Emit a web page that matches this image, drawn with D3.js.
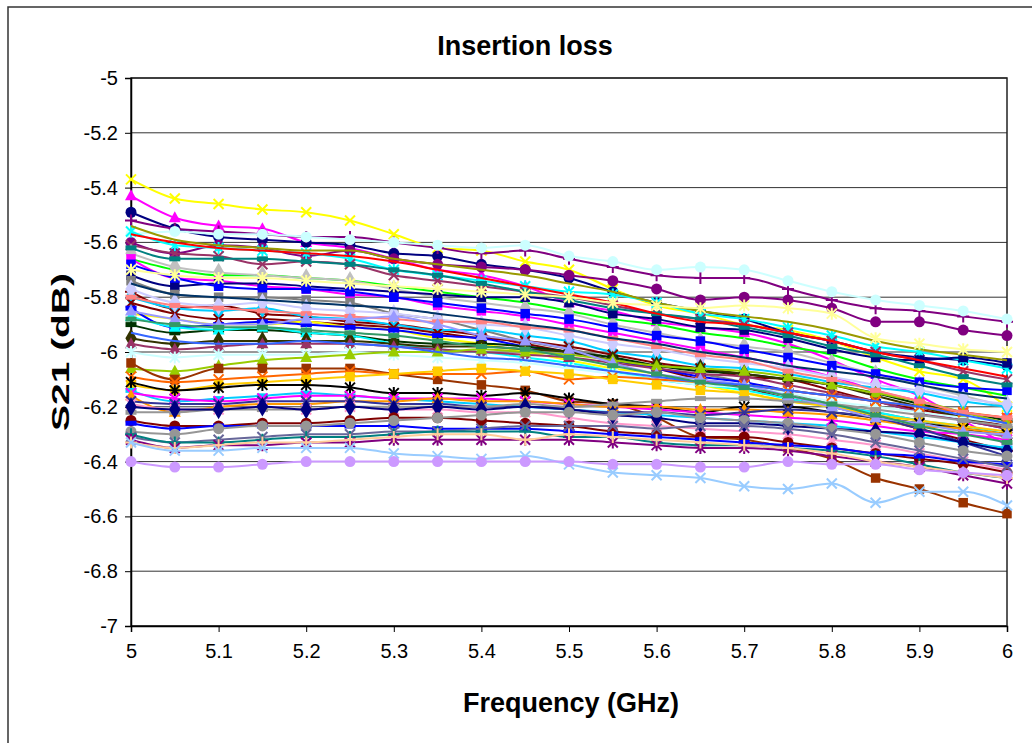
<!DOCTYPE html>
<html>
<head>
<meta charset="utf-8">
<script src="https://cdn.jsdelivr.net/npm/d3@7/dist/d3.min.js"></script>
<style>
  body { margin: 0; background: #fff; }
  svg { display: block; font-family: "Liberation Sans", Arial, sans-serif; }
</style>
</head>
<body>
<svg id="chart" width="1032" height="743"></svg>
<script>
// frequency points (GHz)
var freqs = [5, 5.05, 5.1, 5.15, 5.2, 5.25, 5.3, 5.35, 5.4, 5.45, 5.5,
             5.55, 5.6, 5.65, 5.7, 5.75, 5.8, 5.85, 5.9, 5.95, 6];
var xTicks = [5, 5.1, 5.2, 5.3, 5.4, 5.5, 5.6, 5.7, 5.8, 5.9, 6];
var yTicks = [-5, -5.2, -5.4, -5.6, -5.8, -6, -6.2, -6.4, -6.6, -6.8, -7];

// one entry per measured sample: colour, marker, S21 values at freqs
var seriesColors = [
  "#FFFF00", "#FF00FF", "#000080", "#800080", "#CCFFFF", "#800080", "#00FFFF", "#993366",
  "#00FF00", "#C0C0C0", "#FF00FF", "#000080", "#0000FF", "#808080", "#800000", "#00CCFF",
  "#800000", "#CCCCFF", "#FFFF00", "#0000FF", "#003300", "#00FFFF", "#333300", "#993366",
  "#CCFFFF", "#99CC00", "#993300", "#FF6600", "#FFCC00", "#000000", "#00CCFF", "#FF00FF",
  "#FF9900", "#333399", "#FF99CC", "#969696", "#000080", "#800000", "#0000FF", "#969696",
  "#666699", "#008080", "#800080", "#FFCC99", "#99CCFF", "#CC99FF", "#008080", "#FF0000",
  "#999900", "#FFFF99", "#FF8080", "#9999FF", "#3366FF", "#003366", "#339966"
];
var seriesMarkers = [
  "x", "triangle", "circle", "plus", "circle", "circle", "star", "x",
  "none", "diamond", "square", "square", "square", "square", "plus", "diamond",
  "x", "diamond", "none", "bar", "bar", "triangle", "diamond", "triangle",
  "star", "triangle", "square", "x", "square", "star", "bar", "x",
  "triangle", "x", "star", "bar", "diamond", "circle", "bar", "circle",
  "x", "plus", "star", "plus", "x", "circle", "bar", "none",
  "none", "star", "bar", "triangle", "none", "none", "bar"
];
var seriesValues = [
  [-5.37,-5.44,-5.46,-5.48,-5.49,-5.52,-5.57,-5.62,-5.63,-5.67,-5.70,-5.77,-5.83,-5.86,-5.90,-5.92,-5.96,-6.02,-6.07,-6.10,-6.20],
  [-5.43,-5.51,-5.54,-5.55,-5.60,-5.62,-5.66,-5.70,-5.72,-5.76,-5.82,-5.85,-5.89,-5.91,-5.93,-5.97,-6.03,-6.10,-6.16,-6.25,-6.34],
  [-5.49,-5.55,-5.58,-5.59,-5.60,-5.61,-5.64,-5.65,-5.68,-5.70,-5.73,-5.78,-5.82,-5.85,-5.88,-5.93,-5.96,-6.00,-6.02,-6.03,-6.05],
  [-5.52,-5.55,-5.56,-5.57,-5.58,-5.58,-5.60,-5.62,-5.64,-5.63,-5.66,-5.69,-5.72,-5.73,-5.73,-5.77,-5.81,-5.84,-5.85,-5.87,-5.89],
  [-5.57,-5.56,-5.57,-5.57,-5.58,-5.59,-5.60,-5.61,-5.62,-5.61,-5.65,-5.67,-5.70,-5.69,-5.70,-5.74,-5.78,-5.81,-5.83,-5.85,-5.88],
  [-5.60,-5.64,-5.61,-5.62,-5.65,-5.63,-5.66,-5.68,-5.69,-5.70,-5.72,-5.74,-5.77,-5.81,-5.80,-5.81,-5.84,-5.89,-5.89,-5.92,-5.94],
  [-5.56,-5.61,-5.62,-5.63,-5.64,-5.66,-5.70,-5.72,-5.74,-5.76,-5.78,-5.79,-5.82,-5.86,-5.88,-5.91,-5.94,-5.98,-6.00,-6.03,-6.06],
  [-5.61,-5.64,-5.65,-5.68,-5.67,-5.68,-5.72,-5.74,-5.76,-5.78,-5.80,-5.83,-5.86,-5.88,-5.90,-5.93,-5.96,-6.00,-6.03,-6.07,-6.10],
  [-5.66,-5.70,-5.72,-5.72,-5.73,-5.74,-5.76,-5.78,-5.80,-5.82,-5.85,-5.88,-5.90,-5.93,-5.95,-5.98,-6.01,-6.06,-6.10,-6.13,-6.16],
  [-5.64,-5.69,-5.71,-5.72,-5.73,-5.74,-5.77,-5.80,-5.82,-5.84,-5.86,-5.90,-5.93,-5.96,-5.98,-6.00,-6.04,-6.08,-6.12,-6.16,-6.20],
  [-5.66,-5.73,-5.74,-5.76,-5.77,-5.79,-5.80,-5.83,-5.85,-5.87,-5.90,-5.93,-5.96,-5.99,-6.02,-6.05,-6.09,-6.14,-6.18,-6.22,-6.24],
  [-5.72,-5.76,-5.75,-5.75,-5.76,-5.77,-5.78,-5.79,-5.80,-5.80,-5.82,-5.86,-5.88,-5.91,-5.92,-5.95,-5.99,-6.02,-6.03,-6.02,-6.04],
  [-5.68,-5.73,-5.76,-5.77,-5.77,-5.78,-5.80,-5.82,-5.84,-5.86,-5.88,-5.91,-5.94,-5.96,-5.99,-6.02,-6.05,-6.08,-6.11,-6.13,-6.14],
  [-5.74,-5.79,-5.80,-5.80,-5.81,-5.82,-5.86,-5.88,-5.92,-5.96,-5.99,-6.02,-6.06,-6.08,-6.11,-6.15,-6.19,-6.22,-6.25,-6.28,-6.31],
  [-5.78,-5.84,-5.83,-5.86,-5.87,-5.89,-5.90,-5.92,-5.94,-5.97,-6.00,-6.03,-6.06,-6.10,-6.13,-6.17,-6.20,-6.24,-6.28,-6.32,-6.36],
  [-5.80,-5.84,-5.85,-5.84,-5.87,-5.88,-5.90,-5.92,-5.92,-5.94,-5.96,-6.00,-6.02,-6.05,-6.06,-6.08,-6.11,-6.13,-6.15,-6.18,-6.20],
  [-5.82,-5.86,-5.88,-5.88,-5.89,-5.90,-5.91,-5.93,-5.95,-5.96,-5.98,-6.01,-6.04,-6.06,-6.09,-6.10,-6.14,-6.18,-6.21,-6.24,-6.27],
  [-5.77,-5.82,-5.83,-5.82,-5.84,-5.85,-5.86,-5.88,-5.90,-5.91,-5.94,-5.97,-5.99,-6.02,-6.04,-6.06,-6.09,-6.12,-6.14,-6.17,-6.19],
  [-5.86,-5.88,-5.90,-5.90,-5.89,-5.91,-5.92,-5.95,-5.97,-6.00,-6.03,-6.06,-6.08,-6.12,-6.15,-6.18,-6.20,-6.23,-6.26,-6.28,-6.30],
  [-5.84,-5.91,-5.90,-5.89,-5.90,-5.91,-5.92,-5.94,-5.95,-5.98,-6.00,-6.03,-6.06,-6.09,-6.11,-6.14,-6.16,-6.18,-6.22,-6.25,-6.28],
  [-5.90,-5.93,-5.92,-5.92,-5.93,-5.94,-5.96,-5.97,-5.97,-5.98,-6.00,-6.02,-6.05,-6.07,-6.08,-6.10,-6.12,-6.15,-6.19,-6.22,-6.25],
  [-5.87,-5.91,-5.92,-5.91,-5.93,-5.94,-5.97,-5.99,-6.00,-6.02,-6.04,-6.07,-6.10,-6.12,-6.14,-6.17,-6.20,-6.22,-6.25,-6.27,-6.30],
  [-5.95,-5.97,-5.96,-5.96,-5.96,-5.96,-5.97,-5.98,-5.98,-5.99,-6.00,-6.03,-6.05,-6.06,-6.08,-6.10,-6.12,-6.16,-6.20,-6.24,-6.28],
  [-5.97,-5.99,-5.98,-5.97,-5.97,-5.97,-5.98,-5.99,-6.00,-6.01,-6.02,-6.04,-6.06,-6.08,-6.09,-6.12,-6.15,-6.18,-6.22,-6.25,-6.28],
  [-6.00,-6.02,-6.01,-6.01,-6.01,-6.00,-6.01,-6.02,-6.03,-6.04,-6.06,-6.08,-6.10,-6.12,-6.13,-6.15,-6.18,-6.20,-6.22,-6.24,-6.26],
  [-6.06,-6.07,-6.05,-6.03,-6.02,-6.01,-6.00,-6.00,-5.99,-6.00,-6.01,-6.03,-6.05,-6.06,-6.07,-6.09,-6.12,-6.15,-6.18,-6.22,-6.26],
  [-6.04,-6.10,-6.06,-6.06,-6.06,-6.06,-6.08,-6.10,-6.12,-6.14,-6.18,-6.19,-6.24,-6.31,-6.32,-6.35,-6.39,-6.46,-6.50,-6.55,-6.59],
  [-6.09,-6.11,-6.10,-6.09,-6.08,-6.07,-6.08,-6.08,-6.08,-6.07,-6.10,-6.09,-6.10,-6.11,-6.12,-6.14,-6.16,-6.18,-6.20,-6.22,-6.24],
  [-6.12,-6.14,-6.12,-6.11,-6.10,-6.09,-6.08,-6.07,-6.06,-6.07,-6.08,-6.10,-6.12,-6.14,-6.15,-6.18,-6.20,-6.23,-6.25,-6.27,-6.29],
  [-6.11,-6.14,-6.13,-6.12,-6.12,-6.13,-6.15,-6.15,-6.16,-6.15,-6.17,-6.19,-6.20,-6.22,-6.20,-6.20,-6.22,-6.24,-6.26,-6.28,-6.30],
  [-6.14,-6.18,-6.17,-6.16,-6.15,-6.16,-6.17,-6.18,-6.19,-6.20,-6.21,-6.22,-6.23,-6.24,-6.25,-6.26,-6.27,-6.29,-6.31,-6.33,-6.35],
  [-6.15,-6.17,-6.18,-6.17,-6.16,-6.16,-6.17,-6.17,-6.17,-6.18,-6.19,-6.20,-6.21,-6.22,-6.23,-6.24,-6.25,-6.27,-6.29,-6.30,-6.32],
  [-6.16,-6.22,-6.20,-6.19,-6.19,-6.18,-6.18,-6.17,-6.18,-6.18,-6.19,-6.20,-6.20,-6.21,-6.21,-6.22,-6.23,-6.25,-6.27,-6.28,-6.30],
  [-6.18,-6.19,-6.19,-6.18,-6.18,-6.18,-6.19,-6.19,-6.20,-6.20,-6.21,-6.22,-6.22,-6.23,-6.22,-6.21,-6.22,-6.24,-6.28,-6.33,-6.38],
  [-6.19,-6.21,-6.21,-6.20,-6.21,-6.20,-6.21,-6.21,-6.22,-6.22,-6.24,-6.26,-6.27,-6.28,-6.29,-6.30,-6.32,-6.34,-6.37,-6.40,-6.43],
  [-6.22,-6.22,-6.21,-6.21,-6.21,-6.20,-6.20,-6.20,-6.20,-6.19,-6.20,-6.19,-6.18,-6.17,-6.17,-6.18,-6.19,-6.21,-6.23,-6.25,-6.27],
  [-6.20,-6.21,-6.21,-6.20,-6.21,-6.20,-6.21,-6.20,-6.21,-6.20,-6.21,-6.23,-6.24,-6.26,-6.26,-6.27,-6.28,-6.29,-6.30,-6.33,-6.36],
  [-6.25,-6.27,-6.27,-6.26,-6.26,-6.25,-6.24,-6.24,-6.25,-6.26,-6.27,-6.29,-6.30,-6.31,-6.31,-6.33,-6.35,-6.37,-6.39,-6.41,-6.44],
  [-6.26,-6.28,-6.27,-6.27,-6.27,-6.27,-6.27,-6.28,-6.28,-6.28,-6.29,-6.30,-6.31,-6.32,-6.33,-6.34,-6.35,-6.37,-6.38,-6.40,-6.41],
  [-6.29,-6.30,-6.28,-6.27,-6.27,-6.26,-6.25,-6.24,-6.23,-6.22,-6.22,-6.23,-6.22,-6.24,-6.25,-6.26,-6.28,-6.30,-6.33,-6.36,-6.38],
  [-6.31,-6.33,-6.32,-6.31,-6.30,-6.30,-6.29,-6.29,-6.28,-6.27,-6.27,-6.27,-6.28,-6.27,-6.27,-6.28,-6.30,-6.33,-6.36,-6.39,-6.42],
  [-6.30,-6.33,-6.33,-6.32,-6.31,-6.31,-6.30,-6.29,-6.29,-6.29,-6.31,-6.31,-6.33,-6.34,-6.34,-6.35,-6.36,-6.38,-6.41,-6.44,-6.46],
  [-6.32,-6.35,-6.34,-6.34,-6.33,-6.33,-6.32,-6.32,-6.32,-6.32,-6.32,-6.33,-6.34,-6.35,-6.35,-6.36,-6.38,-6.40,-6.42,-6.45,-6.48],
  [-6.33,-6.35,-6.34,-6.33,-6.33,-6.32,-6.31,-6.30,-6.30,-6.32,-6.30,-6.31,-6.32,-6.33,-6.34,-6.35,-6.37,-6.40,-6.42,-6.44,-6.46],
  [-6.33,-6.36,-6.36,-6.35,-6.35,-6.35,-6.37,-6.38,-6.39,-6.38,-6.41,-6.44,-6.45,-6.46,-6.49,-6.50,-6.48,-6.55,-6.51,-6.51,-6.56],
  [-6.40,-6.42,-6.42,-6.41,-6.40,-6.40,-6.40,-6.40,-6.40,-6.40,-6.40,-6.41,-6.41,-6.42,-6.42,-6.40,-6.41,-6.41,-6.43,-6.44,-6.45],
  [-5.62,-5.66,-5.66,-5.66,-5.67,-5.68,-5.70,-5.72,-5.75,-5.78,-5.81,-5.84,-5.86,-5.88,-5.91,-5.94,-5.98,-6.01,-6.05,-6.09,-6.12],
  [-5.57,-5.60,-5.62,-5.63,-5.64,-5.65,-5.67,-5.70,-5.73,-5.76,-5.79,-5.82,-5.86,-5.89,-5.90,-5.93,-5.96,-6.00,-6.03,-6.06,-6.09],
  [-5.54,-5.59,-5.61,-5.62,-5.63,-5.63,-5.66,-5.68,-5.70,-5.72,-5.75,-5.78,-5.82,-5.85,-5.87,-5.89,-5.92,-5.96,-5.99,-6.01,-6.03],
  [-5.70,-5.72,-5.73,-5.73,-5.74,-5.75,-5.76,-5.77,-5.78,-5.79,-5.80,-5.82,-5.83,-5.84,-5.83,-5.84,-5.86,-5.95,-5.97,-5.99,-6.00],
  [-5.80,-5.83,-5.84,-5.85,-5.86,-5.87,-5.88,-5.89,-5.89,-5.91,-5.92,-5.95,-5.98,-6.01,-6.03,-6.07,-6.10,-6.14,-6.18,-6.22,-6.24],
  [-5.85,-5.88,-5.90,-5.90,-5.88,-5.88,-5.87,-5.90,-5.94,-5.96,-5.99,-6.04,-6.08,-6.10,-6.12,-6.16,-6.20,-6.24,-6.26,-6.29,-6.30],
  [-5.93,-5.96,-5.97,-5.97,-5.96,-5.97,-5.98,-6.00,-6.02,-6.03,-6.05,-6.07,-6.09,-6.11,-6.12,-6.14,-6.16,-6.18,-6.20,-6.23,-6.26],
  [-5.75,-5.79,-5.80,-5.81,-5.82,-5.83,-5.84,-5.86,-5.88,-5.90,-5.92,-5.95,-5.97,-6.00,-6.02,-6.05,-6.07,-6.09,-6.12,-6.15,-6.17],
  [-5.88,-5.90,-5.91,-5.91,-5.92,-5.93,-5.94,-5.96,-5.98,-5.99,-6.02,-6.05,-6.08,-6.11,-6.13,-6.16,-6.19,-6.23,-6.27,-6.30,-6.33]
];

var svg = d3.select("#chart");
var margin = {left: 131, top: 78, right: 1007, bottom: 626};

var x = d3.scaleLinear().domain([5, 6]).range([margin.left, margin.right]);
var y = d3.scaleLinear().domain([-7, -5]).range([margin.bottom, margin.top]);

// outer chart frame
svg.append("rect")
    .attr("x", 8).attr("y", 7).attr("width", 1060).attr("height", 780)
    .attr("fill", "#fff").attr("stroke", "#333").attr("stroke-width", 1.5);

// grid lines
svg.append("g").selectAll("line").data(yTicks).enter().append("line")
    .attr("x1", margin.left).attr("x2", margin.right)
    .attr("y1", function(d) { return y(d); }).attr("y2", function(d) { return y(d); })
    .attr("stroke", "#333").attr("stroke-width", 1);

// plot area border
svg.append("rect")
    .attr("x", margin.left).attr("y", margin.top)
    .attr("width", margin.right - margin.left).attr("height", margin.bottom - margin.top)
    .attr("fill", "none").attr("stroke", "#222").attr("stroke-width", 1.5);

var xAxis = d3.axisBottom(x).tickValues(xTicks).tickSize(6).tickPadding(12)
    .tickFormat(function(d) { return d3.format("")(d); });
var yAxis = d3.axisLeft(y).tickValues(yTicks).tickSize(6).tickPadding(7)
    .tickFormat(function(d) { return d3.format("")(d).replace("−", "-"); });

var gx = svg.append("g").attr("transform", "translate(0," + margin.bottom + ")").call(xAxis);
var gy = svg.append("g").attr("transform", "translate(" + margin.left + ",0)").call(yAxis);
[gx, gy].forEach(function(g) {
    g.attr("font-size", 20).attr("font-family", "'Liberation Sans', Arial, sans-serif");
    g.select(".domain").attr("stroke", "#000").attr("stroke-width", 1.5);
    g.selectAll(".tick line").attr("stroke", "#000");
    g.selectAll(".tick text").attr("fill", "#000");
});

// markers
function markerPath(type) {
    var s = 5;
    if (type == "x") return "M" + (-s) + "," + (-s) + "L" + s + "," + s + "M" + (-s) + "," + s + "L" + s + "," + (-s);
    if (type == "star") return "M" + (-s) + "," + (-s) + "L" + s + "," + s + "M" + (-s) + "," + s + "L" + s + "," + (-s) + "M0," + (-s - 1) + "L0," + (s + 1);
    if (type == "plus") return "M" + (-s - 1) + ",0L" + (s + 1) + ",0M0," + (-s - 1) + "L0," + (s + 1);
    if (type == "bar") return "M-5.5,-2.5L5.5,-2.5L5.5,2.5L-5.5,2.5Z";
    if (type == "circle") return d3.symbol().type(d3.symbolCircle).size(95)();
    if (type == "square") return d3.symbol().type(d3.symbolSquare).size(90)();
    if (type == "diamond") return d3.symbol().type(d3.symbolDiamond).size(110)();
    if (type == "triangle") return "M0,-6.5L6,4.5L-6,4.5Z";
    return null;
}
var stroked = {x: true, star: true, plus: true};

var line = d3.line()
    .x(function(d, i) { return x(freqs[i]); })
    .y(function(d) { return y(d); })
    .curve(d3.curveMonotoneX);

var plot = svg.append("g");
seriesValues.forEach(function(vals, k) {
    var col = seriesColors[k];
    var g = plot.append("g");
    g.append("path").datum(vals)
        .attr("d", line).attr("fill", "none")
        .attr("stroke", col).attr("stroke-width", 2);
    var mp = markerPath(seriesMarkers[k]);
    if (!mp) return;
    g.selectAll("path.m").data(vals).enter().append("path")
        .attr("class", "m")
        .attr("d", mp)
        .attr("transform", function(d, i) { return "translate(" + x(freqs[i]) + "," + y(d) + ")"; })
        .attr("fill", stroked[seriesMarkers[k]] ? "none" : col)
        .attr("stroke", col)
        .attr("stroke-width", stroked[seriesMarkers[k]] ? 2 : 0);
});

// titles
svg.append("text").attr("x", 525).attr("y", 55).attr("text-anchor", "middle")
    .style("font-size", "27px").style("font-weight", "bold").text("Insertion loss");
svg.append("text").attr("x", 571).attr("y", 712).attr("text-anchor", "middle")
    .style("font-size", "27px").style("font-weight", "bold").text("Frequency (GHz)");
svg.append("text").attr("transform", "translate(69,352) rotate(-90)").attr("text-anchor", "middle")
    .attr("textLength", 158).attr("lengthAdjust", "spacingAndGlyphs")
    .style("font-size", "23px").style("font-weight", "bold").text("S21 (dB)");
</script>
</body>
</html>
